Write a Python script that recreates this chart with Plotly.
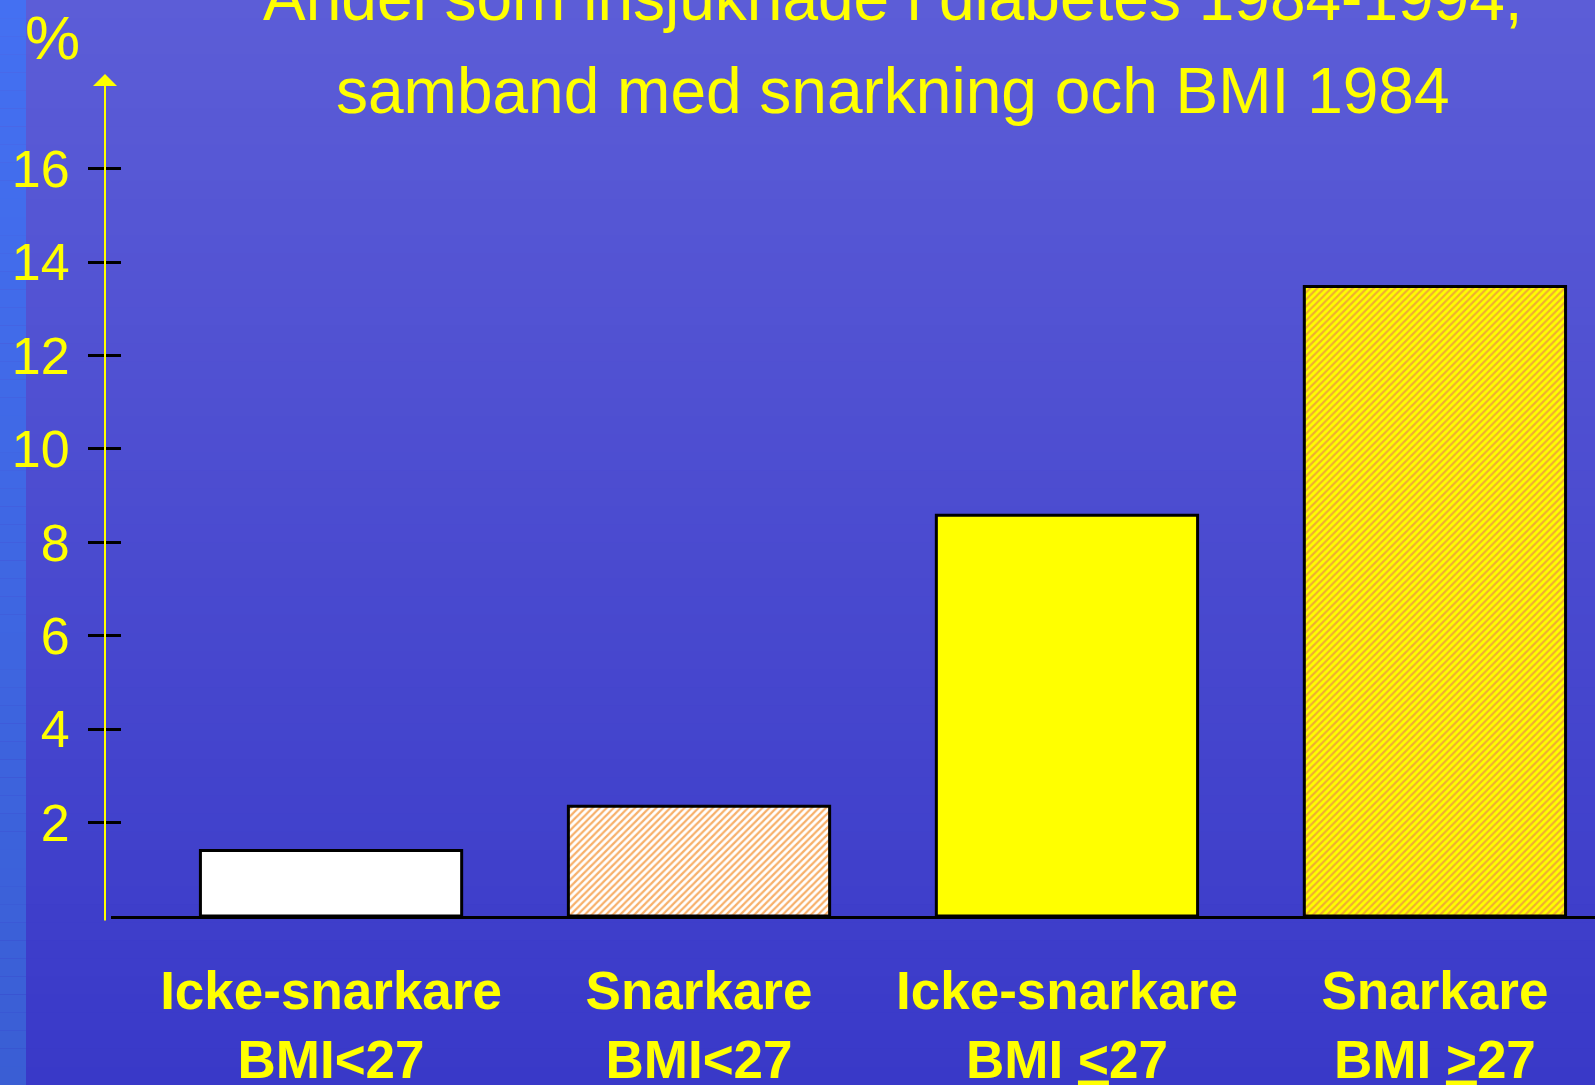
import plotly.graph_objects as go

# data
categories = [
    "Icke-snarkare<br>BMI&lt;27",
    "Snarkare<br>BMI&lt;27",
    "Icke-snarkare<br>BMI <u>&lt;</u>27",
    "Snarkare<br>BMI <u>&gt;</u>27",
]
values = [1.4, 2.35, 8.58, 13.48]
tick_vals = [2, 4, 6, 8, 10, 12, 14, 16]
tick_text = ["2", "4", "6", "8", "10", "12", "14", "16"]

title_line1 = "Andel som insjuknade i diabetes 1984-1994,"
title_line2 = "samband med snarkning och BMI 1984"

YELLOW = "#FFFF00"
ORANGE_LIGHT = "#F7B06A"
ORANGE = "#F0AE30"
FONT = "Liberation Sans, Arial, sans-serif"

W, H = 1595, 1085
ML, MR, MT, MB = 105, 0, 52, 169
PW, PH = W - ML - MR, H - MT - MB


def px_x(px):
    return (px - ML) / PW


def px_y(py):
    return (H - MB - py) / PH


def mix(c1, c2, t):
    return "rgb(%d,%d,%d)" % tuple(round(a + (b - a) * t) for a, b in zip(c1, c2))


# background gradient bands
shapes = []
n = 60
top_c, bot_c = (92, 93, 215), (57, 57, 200)
strip_top, strip_bot = (68, 112, 242), (58, 94, 212)
for i in range(n):
    y0 = H * i / n
    y1 = H * (i + 1) / n + 1
    t = i / (n - 1)
    shapes.append(dict(type="rect", xref="paper", yref="paper", layer="below",
                       x0=px_x(0), x1=px_x(W), y0=px_y(y1), y1=px_y(y0),
                       fillcolor=mix(top_c, bot_c, t), line_width=0))
    shapes.append(dict(type="rect", xref="paper", yref="paper", layer="below",
                       x0=px_x(0), x1=px_x(26), y0=px_y(y1), y1=px_y(y0),
                       fillcolor=mix(strip_top, strip_bot, t), line_width=0))

fig = go.Figure()

# solid bars (white, yellow)
fig.add_trace(go.Bar(
    x=[categories[0], categories[2]],
    y=[values[0], values[2]],
    width=0.71,
    marker=dict(color=["#FFFFFF", YELLOW], line=dict(color="#000000", width=3)),
    hoverinfo="skip",
))
# hatched bar, white with light orange stripes
fig.add_trace(go.Bar(
    x=[categories[1]],
    y=[values[1]],
    width=0.71,
    marker=dict(
        color="#FFFFFF",
        line=dict(color="#000000", width=3),
        pattern=dict(shape="/", fgcolor=ORANGE_LIGHT, fgopacity=1, size=5,
                     solidity=0.45, fillmode="overlay"),
    ),
    hoverinfo="skip",
))
# hatched bar, yellow with orange stripes
fig.add_trace(go.Bar(
    x=[categories[3]],
    y=[values[3]],
    width=0.71,
    marker=dict(
        color=YELLOW,
        line=dict(color="#000000", width=3),
        pattern=dict(shape="/", fgcolor=ORANGE, fgopacity=1, size=5,
                     solidity=0.45, fillmode="overlay"),
    ),
    hoverinfo="skip",
))

fig.update_layout(
    width=W,
    height=H,
    barmode="overlay",
    margin=dict(l=ML, r=MR, t=MT, b=MB, autoexpand=False),
    paper_bgcolor="#4a4ad0",
    plot_bgcolor="rgba(0,0,0,0)",
    showlegend=False,
    shapes=shapes,
    font=dict(family=FONT, color=YELLOW),
    xaxis=dict(
        domain=[px_x(111), 1],
        range=[-0.598, 3.435],
        categoryorder="array",
        categoryarray=categories,
        automargin=False,
        showline=True,
        linecolor="#000000",
        linewidth=3,
        showgrid=False,
        zeroline=False,
        ticks="",
        tickfont=dict(family=FONT, size=53, color=YELLOW, weight="bold"),
        ticklabelstandoff=26,
    ),
    yaxis=dict(
        range=[0, 18.5],
        anchor="free",
        position=0,
        automargin=False,
        showline=False,
        showgrid=False,
        zeroline=False,
        tickvals=tick_vals,
        ticktext=tick_text,
        ticks="outside",
        ticklen=17,
        tickwidth=3,
        tickcolor="#000000",
        tickfont=dict(family=FONT, size=52, color=YELLOW),
        ticklabelstandoff=8,
    ),
    yaxis2=dict(
        overlaying="y",
        matches="y",
        anchor="free",
        position=0,
        side="left",
        automargin=False,
        showline=False,
        showgrid=False,
        zeroline=False,
        tickvals=tick_vals,
        showticklabels=False,
        ticks="inside",
        ticklen=15,
        tickwidth=3,
        tickcolor="#000000",
    ),
    annotations=[
        # y axis arrow
        dict(xref="paper", yref="y", x=0, y=18.03, text="", showarrow=True,
             ax=0, ay=848, arrowhead=1, arrowsize=2, arrowwidth=2, arrowcolor=YELLOW),
        dict(xref="paper", yref="paper", x=px_x(52), y=px_y(38), text="%",
             showarrow=False, font=dict(size=62, color=YELLOW, family=FONT),
             xanchor="center", yanchor="middle"),
        dict(xref="paper", yref="paper", x=px_x(893), y=px_y(-2), text=title_line1,
             showarrow=False, font=dict(size=64, color=YELLOW, family=FONT),
             xanchor="center", yanchor="middle"),
        dict(xref="paper", yref="paper", x=px_x(893), y=px_y(91), text=title_line2,
             showarrow=False, font=dict(size=64, color=YELLOW, family=FONT),
             xanchor="center", yanchor="middle"),
    ],
)

# invisible trace so yaxis2 is drawn
fig.add_trace(go.Scatter(x=[categories[0]], y=[0], yaxis="y2", mode="markers",
                         marker=dict(opacity=0), hoverinfo="skip"))

fig.write_html("out.html", config={"displayModeBar": False},
               post_script="document.body.style.margin='0';")
